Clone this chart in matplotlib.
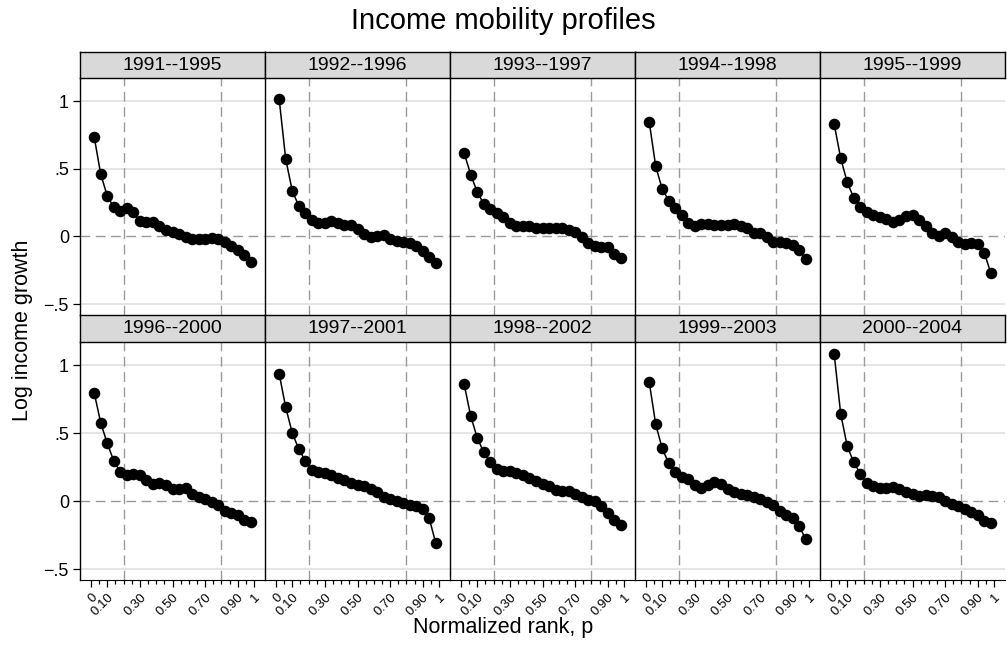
import numpy as np
import matplotlib
matplotlib.use("Agg")
import matplotlib.pyplot as plt

plt.rcParams['font.family'] = ['Liberation Sans', 'DejaVu Sans']

periods = ["1991--1995", "1992--1996", "1993--1997", "1994--1998", "1995--1999",
           "1996--2000", "1997--2001", "1998--2002", "1999--2003", "2000--2004"]

# normalized rank of each point (25 groups)
rank = np.linspace(0.02, 0.98, 25)

growth_1991 = [0.735, 0.46, 0.30, 0.216, 0.19, 0.21, 0.18, 0.113, 0.105, 0.105, 0.074, 0.049, 0.032,
               0.02, -0.005, -0.022, -0.02, -0.017, -0.015, -0.022, -0.042, -0.074, -0.10, -0.14, -0.19]
growth_1992 = [1.012, 0.571, 0.338, 0.225, 0.17, 0.12, 0.103, 0.098, 0.113, 0.098, 0.088, 0.083, 0.054,
               0.02, -0.007, 0.005, 0.01, -0.017, -0.03, -0.04, -0.05, -0.07, -0.11, -0.15, -0.196]
growth_1993 = [0.615, 0.456, 0.328, 0.24, 0.20, 0.176, 0.147, 0.098, 0.074, 0.076, 0.074, 0.064, 0.061,
               0.064, 0.064, 0.06, 0.05, 0.032, -0.005, -0.05, -0.07, -0.08, -0.078, -0.13, -0.16]
growth_1994 = [0.848, 0.517, 0.35, 0.265, 0.21, 0.162, 0.103, 0.078, 0.09, 0.093, 0.088, 0.088, 0.088,
               0.093, 0.078, 0.06, 0.027, 0.025, -0.005, -0.04, -0.042, -0.05, -0.06, -0.10, -0.17]
growth_1995 = [0.83, 0.576, 0.40, 0.284, 0.216, 0.18, 0.157, 0.142, 0.13, 0.105, 0.125, 0.152, 0.162,
               0.118, 0.078, 0.027, 0.007, 0.025, -0.005, -0.042, -0.054, -0.05, -0.054, -0.12, -0.27]
growth_1996 = [0.797, 0.576, 0.424, 0.297, 0.213, 0.189, 0.199, 0.191, 0.154, 0.125, 0.13, 0.115, 0.086,
               0.09, 0.10, 0.056, 0.032, 0.012, -0.005, -0.03, -0.07, -0.086, -0.105, -0.14, -0.154]
growth_1997 = [0.936, 0.689, 0.502, 0.382, 0.297, 0.228, 0.213, 0.208, 0.189, 0.169, 0.154, 0.13, 0.12,
               0.11, 0.09, 0.069, 0.032, 0.012, 0.002, -0.017, -0.025, -0.034, -0.061, -0.127, -0.311]
growth_1998 = [0.858, 0.625, 0.466, 0.358, 0.287, 0.238, 0.218, 0.218, 0.208, 0.194, 0.169, 0.145, 0.125,
               0.11, 0.081, 0.071, 0.076, 0.056, 0.032, 0.007, -0.002, -0.037, -0.09, -0.14, -0.174]
growth_1999 = [0.877, 0.564, 0.387, 0.277, 0.216, 0.174, 0.159, 0.12, 0.10, 0.115, 0.142, 0.125, 0.086,
               0.066, 0.056, 0.047, 0.032, 0.012, -0.007, -0.03, -0.07, -0.105, -0.127, -0.184, -0.282]
growth_2000 = [1.081, 0.64, 0.404, 0.284, 0.203, 0.13, 0.11, 0.096, 0.096, 0.105, 0.086, 0.066, 0.051,
               0.039, 0.042, 0.037, 0.027, -0.002, -0.022, -0.037, -0.056, -0.078, -0.105, -0.145, -0.159]

series = [growth_1991, growth_1992, growth_1993, growth_1994, growth_1995,
          growth_1996, growth_1997, growth_1998, growth_1999, growth_2000]

yticks = [-0.5, 0, 0.5, 1]
ytick_labels = ["\u2212.5", "0", ".5", "1"]
xticks = [0, 0.1, 0.3, 0.5, 0.7, 0.9, 1]
xtick_labels = ["0", "0.10", "0.30", "0.50", "0.70", "0.90", "1"]

W, H = 1007, 646
fig = plt.figure(figsize=(W / 100, H / 100), dpi=100)

left, right = 80, 1005
pw = (right - left) / 5
rows = [(52, 78, 315), (315, 342, 580)]  # strip top, plot top, plot bottom (px)

for i, (label, vals) in enumerate(zip(periods, series)):
    r, c = divmod(i, 5)
    st, pt, pb = rows[r]
    x0 = left + c * pw
    ax = fig.add_axes([x0 / W, 1 - pb / H, pw / W, (pb - pt) / H])
    ax.set_xlim(-0.067, 1.067)
    ax.set_ylim(-0.58, 1.17)

    for g in [-0.5, 0.5, 1]:
        ax.axhline(g, color="#e0e0e0", lw=1.2, zorder=0)
    ax.axhline(0, color="#9a9a9a", lw=1.0, ls=(0, (7, 4)), zorder=1)
    for v in [0.2, 0.8]:
        ax.axvline(v, color="#9a9a9a", lw=1.0, ls=(0, (7, 4)), zorder=1)

    ax.plot(rank, vals, color="black", lw=1.1, marker="o", ms=7.3, zorder=3)

    for s in ["top", "right"]:
        ax.spines[s].set_visible(False)
    ax.spines["left"].set_linewidth(1.0)
    ax.spines["bottom"].set_visible(r == 1)

    ax.set_yticks(yticks)
    if c == 0:
        ax.set_yticklabels(ytick_labels, fontsize=13)
        ax.tick_params(axis="y", length=5, width=0.9, pad=3)
    else:
        ax.tick_params(axis="y", length=0, labelleft=False)

    if r == 1:
        ax.set_xticks(xticks)
        ax.set_xticks(np.arange(0.05, 1.0, 0.1).tolist() + [0.2, 0.4, 0.6, 0.8], minor=True)
        ax.set_xticklabels(xtick_labels, fontsize=9.5, rotation=45, ha="right", va="top",
                           rotation_mode="anchor")
        ax.tick_params(axis="x", which="major", length=5, width=0.9, pad=3)
        ax.tick_params(axis="x", which="minor", length=3, width=0.9)
    else:
        ax.tick_params(axis="x", bottom=False, labelbottom=False)

    # facet header
    sx = fig.add_axes([x0 / W, 1 - pt / H, pw / W, (pt - st) / H])
    sx.set_facecolor("#d9d9d9")
    sx.set_xticks([])
    sx.set_yticks([])
    for s in sx.spines.values():
        s.set_linewidth(1.0)
    sx.text(0.5, 0.5, label, ha="center", va="center", fontsize=14, transform=sx.transAxes)

fig.text(0.5, 1 - 21 / H, "Income mobility profiles", ha="center", va="center", fontsize=21)
fig.text(0.5, 1 - 628 / H, "Normalized rank, p", ha="center", va="center", fontsize=15.5)
fig.text(23 / W, 1 - 330 / H, "Log income growth", ha="center", va="center", rotation=90, fontsize=15.5)

fig.savefig("out.png", dpi=100)
